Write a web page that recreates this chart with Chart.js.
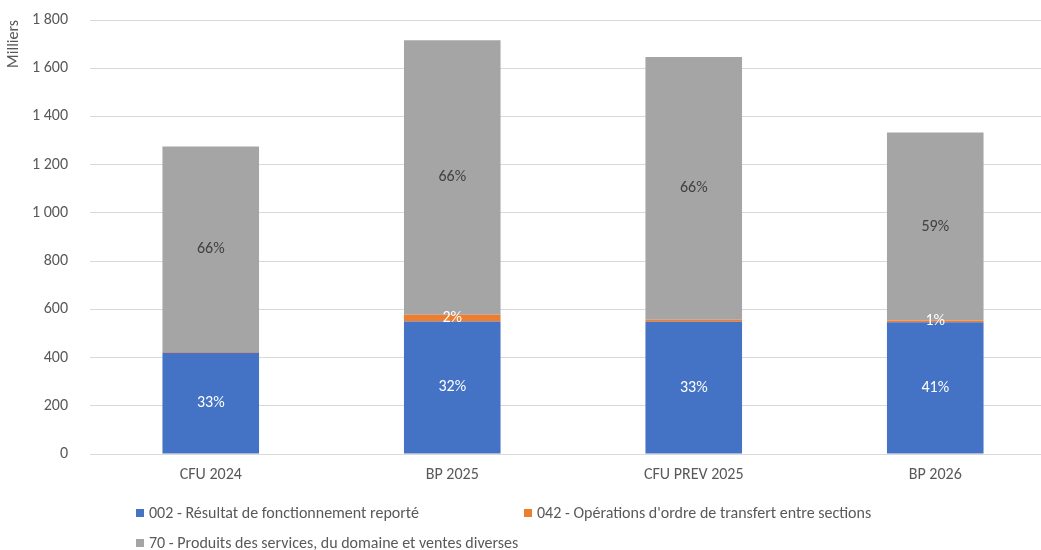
<!DOCTYPE html>
<html>
<head>
<meta charset="utf-8">
<script src="https://cdn.jsdelivr.net/npm/chart.js@4.4.1/dist/chart.umd.min.js"></script>
<style>
  html, body { margin: 0; padding: 0; background: #fff; overflow: hidden; }
  #wrap { position: relative; width: 1041px; height: 550px; overflow: hidden; }
  #box { position: absolute; left: 0; top: 0; width: 1056px; height: 550px; }
  .leg { position: absolute; font-family: Carlito, Calibri, Lato, "Open Sans", sans-serif; font-size: 16px; color: #595959; white-space: nowrap; line-height: 18px; }
  .leg span.sw { display: inline-block; width: 8px; height: 8px; margin-right: 5px; vertical-align: 1px; }
</style>
</head>
<body>
<div id="wrap">
  <div id="box"><canvas id="c" width="1056" height="550"></canvas></div>
  <div class="leg" style="left:136px; top:504px;"><span class="sw" style="background:#4472C4"></span>002 - Résultat de fonctionnement reporté</div>
  <div class="leg" style="left:524px; top:504px;"><span class="sw" style="background:#ED7D31"></span>042 - Opérations d'ordre de transfert entre sections</div>
  <div class="leg" style="left:136px; top:534px;"><span class="sw" style="background:#A5A5A5"></span>70 - Produits des services, du domaine et ventes diverses</div>
</div>
<script>
const categories = ['CFU 2024', 'BP 2025', 'CFU PREV 2025', 'BP 2026'];
const seriesNames = ['002 - Résultat de fonctionnement reporté', "042 - Opérations d'ordre de transfert entre sections", '70 - Produits des services, du domaine et ventes diverses'];
const resultatReporte = [420, 550, 549, 546];
const operationsOrdre = [3, 28, 8, 8];
const produitsServices = [852, 1138, 1090, 779];
const pctResultat = ['33%', '32%', '33%', '41%'];
const pctOrdre = ['', '2%', '', '1%'];
const pctProduits = ['66%', '66%', '66%', '59%'];
const yTicks = [0, 200, 400, 600, 800, 1000, 1200, 1400, 1600, 1800];

const FONT = 'Carlito, Calibri, Lato, "Open Sans", sans-serif';

const labelPlugin = {
  id: 'segLabels',
  afterDatasetsDraw(chart) {
    const ctx = chart.ctx;
    const sets = [pctResultat, pctOrdre, pctProduits];
    const colors = ['#ffffff', '#ffffff', '#404040'];
    ctx.save();
    ctx.font = '16px ' + FONT;
    ctx.textAlign = 'center';
    ctx.textBaseline = 'middle';
    sets.forEach((labels, i) => {
      const meta = chart.getDatasetMeta(i);
      meta.data.forEach((el, j) => {
        const t = labels[j];
        if (!t) return;
        const p = el.getProps(['x', 'y', 'base'], true);
        ctx.fillStyle = colors[i];
        ctx.fillText(t, p.x, (p.y + p.base) / 2);
      });
    });
    ctx.restore();
  }
};

new Chart(document.getElementById('c'), {
  type: 'bar',
  data: {
    labels: categories,
    datasets: [
      { label: seriesNames[0], data: resultatReporte, backgroundColor: '#4472C4' },
      { label: seriesNames[1], data: operationsOrdre, backgroundColor: '#ED7D31' },
      { label: seriesNames[2], data: produitsServices, backgroundColor: '#A5A5A5' }
    ]
  },
  options: {
    responsive: false,
    animation: false,
    events: [],
    layout: { padding: { top: 20, right: 0, bottom: 56, left: 0 } },
    datasets: { bar: { categoryPercentage: 1, barPercentage: 0.4 } },
    plugins: { legend: { display: false }, tooltip: { enabled: false } },
    scales: {
      x: {
        stacked: true,
        grid: { display: false, drawTicks: false },
        border: { display: true, color: '#d9d9d9', width: 1 },
        ticks: { color: '#595959', font: { family: FONT, size: 16 }, padding: 11 },
        afterFit(s) { s.height = 40; s.paddingLeft = 0; s.paddingRight = 0; }
      },
      y: {
        stacked: true,
        min: 0, max: 1800,
        afterBuildTicks(s) { s.ticks = yTicks.map(v => ({ value: v })); },
        grid: { color: '#d9d9d9', lineWidth: 1, drawTicks: false },
        border: { display: false },
        ticks: {
          color: '#595959', font: { family: FONT, size: 16 }, padding: 22,
          callback: v => String(v).replace(/\B(?=(\d{3})+(?!\d))/g, ' ')
        },
        title: { display: true, text: 'Milliers', align: 'end', color: '#595959', font: { family: FONT, size: 16 }, padding: { top: 4, bottom: 0 } },
        afterFit(s) { s.width = 90; s.paddingTop = 0; s.paddingBottom = 0; }
      }
    }
  },
  plugins: [labelPlugin]
});
</script>
</body>
</html>
